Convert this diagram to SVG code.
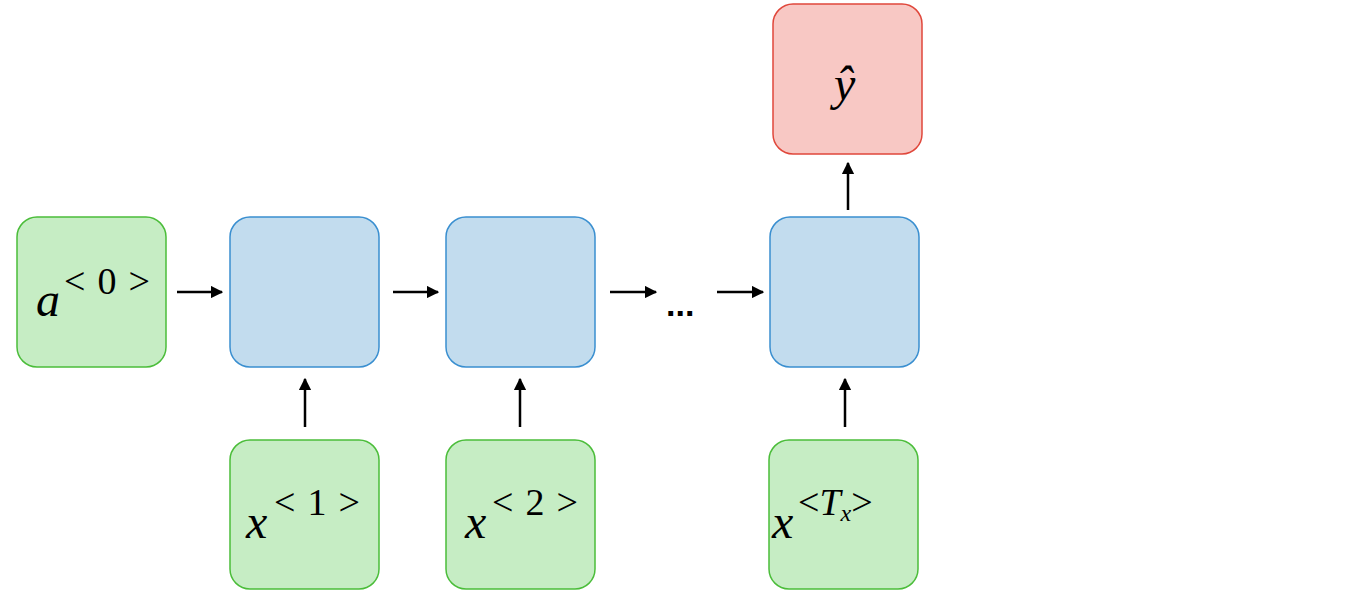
<svg xmlns="http://www.w3.org/2000/svg" width="1350" height="600" viewBox="0 0 1350 600">
<style>
.g{fill:#c6edc4;stroke:#4bbd3a;stroke-width:1.5}
.b{fill:#c2dcee;stroke:#3a8fd0;stroke-width:1.5}
.r{fill:#f8c8c4;stroke:#e0473b;stroke-width:1.5}
.v{font-family:"Liberation Serif",serif;font-style:italic;font-size:48px;fill:#000}
.s{font-family:"Liberation Serif",serif;font-size:38px;fill:#000}
.c line{stroke:#000;stroke-width:2.5;marker-end:url(#ah)}
</style>
<defs><marker id="ah" viewBox="0 0 10 10" refX="9" refY="5" markerWidth="5" markerHeight="5" orient="auto"><path d="M0,0L10,5L0,10z" fill="#000"/></marker></defs>
<rect width="1350" height="600" fill="#fff"/>
<g id="a0"><rect class="g" x="17" y="217" width="149" height="150" rx="20"/><text class="v" x="36" y="316">a</text><text class="s" x="64" y="294" textLength="86" lengthAdjust="spacing">&lt;0&gt;</text></g>
<g id="h1"><rect class="b" x="230" y="217" width="149" height="150" rx="20"/></g>
<g id="h2"><rect class="b" x="446" y="217" width="149" height="150" rx="20"/></g>
<g id="hT"><rect class="b" x="770" y="217" width="149" height="150" rx="20"/></g>
<g id="yhat"><rect class="r" x="773" y="4" width="149" height="150" rx="20"/><text class="v" x="834" y="100">ŷ</text></g>
<g id="x1"><rect class="g" x="230" y="440" width="149" height="149" rx="20"/><text class="v" x="246" y="538">x</text><text class="s" x="274" y="515" textLength="86" lengthAdjust="spacing">&lt;1&gt;</text></g>
<g id="x2"><rect class="g" x="446" y="440" width="149" height="149" rx="20"/><text class="v" x="465" y="538">x</text><text class="s" x="492" y="515" textLength="86" lengthAdjust="spacing">&lt;2&gt;</text></g>
<g id="xT"><rect class="g" x="769" y="440" width="149" height="149" rx="20"/><text class="v" x="772" y="538">x</text><text class="s" x="798" y="515">&lt;<tspan font-style="italic">T</tspan><tspan font-style="italic" font-size="24" dy="6">x</tspan><tspan dy="-6">&gt;</tspan></text></g>
<text x="666" y="316" font-family="Liberation Sans,sans-serif" font-size="34" font-weight="bold">...</text>
<g class="c">
<line x1="177" y1="292" x2="222" y2="292"/>
<line x1="393" y1="292" x2="438" y2="292"/>
<line x1="610" y1="292" x2="656" y2="292"/>
<line x1="717" y1="292" x2="763" y2="292"/>
<line x1="305" y1="427" x2="305" y2="379"/>
<line x1="520" y1="427" x2="520" y2="379"/>
<line x1="845" y1="427" x2="845" y2="379"/>
<line x1="848" y1="210" x2="848" y2="163"/>
</g>
</svg>
